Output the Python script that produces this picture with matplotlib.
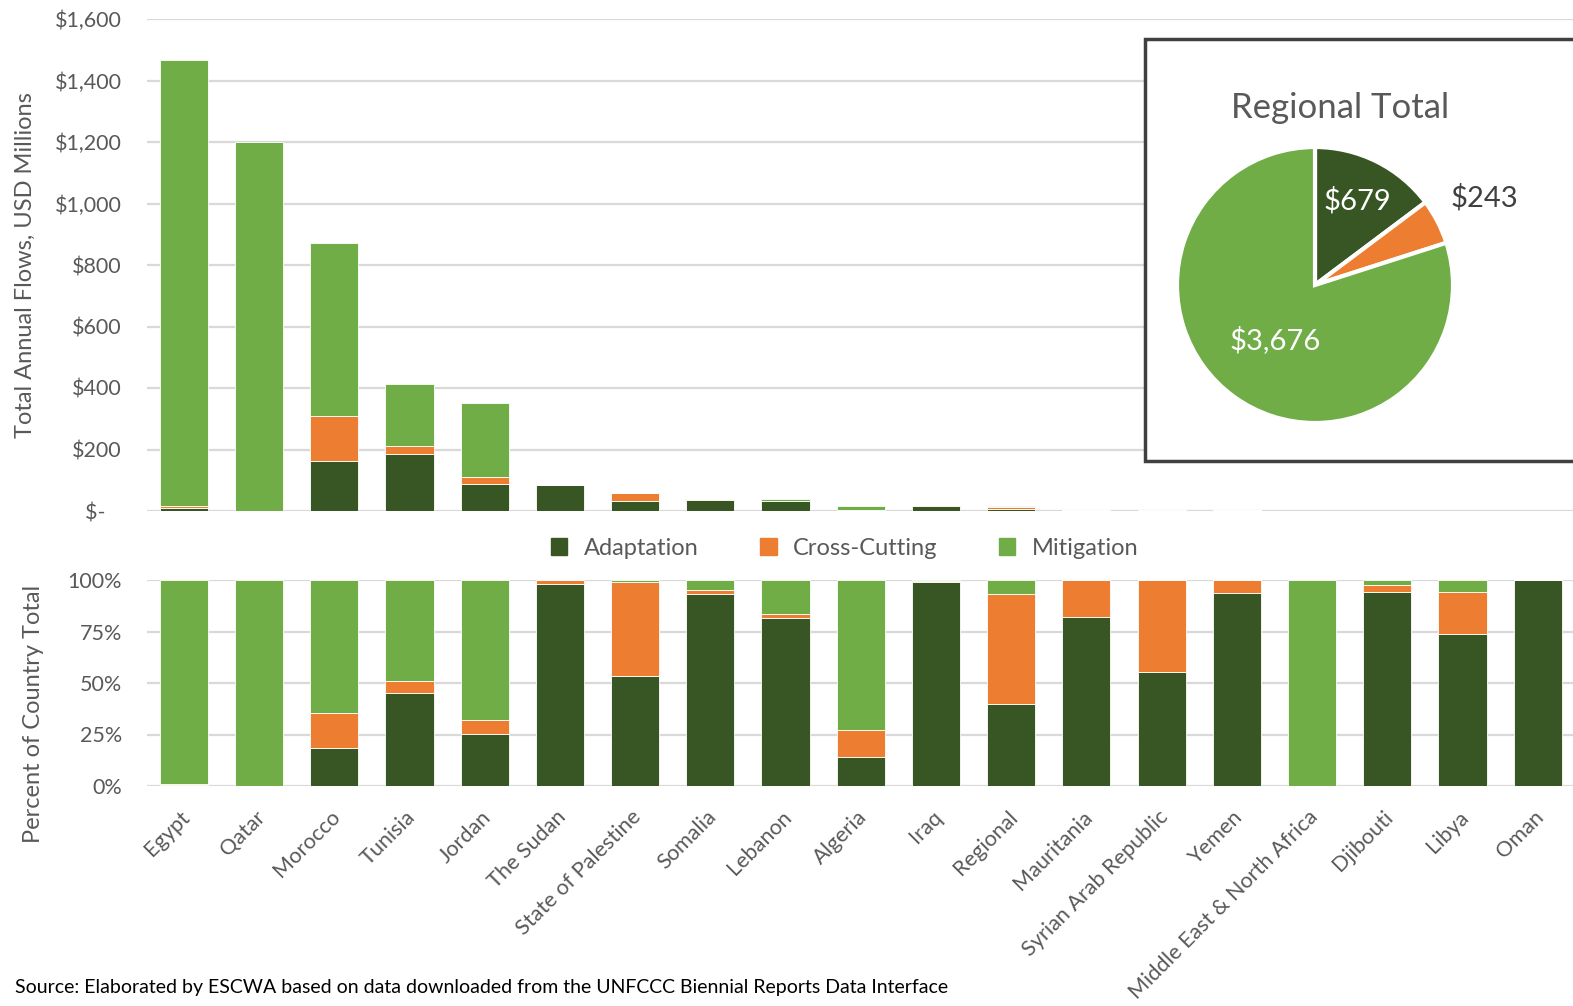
import numpy as np
import matplotlib
matplotlib.use("Agg")
import matplotlib.pyplot as plt
import matplotlib.transforms as mtransforms
from matplotlib.patches import Rectangle, Patch

plt.rcParams['font.family'] = ['Lato', 'DejaVu Sans']

# climate finance flows by recipient, USD millions
countries = ["Egypt", "Qatar", "Morocco", "Tunisia", "Jordan", "The Sudan",
             "State of Palestine", "Somalia", "Lebanon", "Algeria", "Iraq",
             "Regional", "Mauritania", "Syrian Arab Republic", "Yemen",
             "Middle East & North Africa", "Djibouti", "Libya", "Oman"]
adaptation = [10, 0, 161, 186, 89, 83.5, 32, 37.2, 31.0, 2.4, 17.8, 6.0,
              3.3, 1.4, 3.8, 0, 1.25, 0.9, 0.7]
cross_cutting = [5, 0, 149, 25, 23, 1.5, 27.4, 0.8, 0.7, 2.2, 0.1, 8.0,
                 0.73, 1.13, 0.25, 0, 0.04, 0.25, 0]
mitigation = [1452, 1200, 560, 201, 238, 0, 0.6, 2.0, 6.3, 12.4, 0.1, 1.0,
              0, 0, 0, 1.5, 0.035, 0.068, 0]

pie_labels = ["Adaptation", "Cross-Cutting", "Mitigation"]
pie_values = [679, 243, 3676]

dark = "#375623"
orange = "#ED7D31"
green = "#70AD47"
grey = "#595959"
grid = "#d9d9d9"

A = np.array(adaptation)
C = np.array(cross_cutting)
M = np.array(mitigation)
total = A + C + M
x = np.arange(len(countries))
w = 0.64

fig = plt.figure(figsize=(15.73, 10.06), dpi=100)

# top: absolute flows
ax1 = fig.add_axes([147 / 1573, 1 - 511 / 1006, 1 - 147 / 1573, (511 - 19) / 1006])
kw = dict(width=w, edgecolor="white", linewidth=0.6, zorder=3)
ax1.bar(x, A, color=dark, **kw)
ax1.bar(x, C, bottom=A, color=orange, **kw)
ax1.bar(x, M, bottom=A + C, color=green, **kw)
ax1.set_ylim(0, 1600)
ax1.set_xlim(-0.49, 18.47)
yt = np.arange(0, 1601, 200)
ax1.set_yticks(yt)
ax1.set_yticklabels(["$-   " if v == 0 else "${:,}".format(v) for v in yt])
ax1.set_xticks([])
ax1.set_ylabel("Total Annual Flows, USD Millions", fontsize=17, color=grey)
ax1.yaxis.set_label_coords(-0.078, 0.5)

# bottom: share of each country's total
ax2 = fig.add_axes([147 / 1573, 1 - 786 / 1006, 1 - 147 / 1573, (786 - 580) / 1006])
pa, pc, pm = A / total * 100, C / total * 100, M / total * 100
ax2.bar(x, pa, color=dark, **kw)
ax2.bar(x, pc, bottom=pa, color=orange, **kw)
ax2.bar(x, pm, bottom=pa + pc, color=green, **kw)
ax2.set_ylim(0, 100)
ax2.set_xlim(-0.49, 18.47)
ax2.set_yticks([0, 25, 50, 75, 100])
ax2.set_yticklabels(["0%", "25%", "50%", "75%", "100%"])
ax2.set_xticks(x)
ax2.set_xticklabels(countries, rotation=45, ha="right", va="top", rotation_mode="anchor")
ax2.set_ylabel("Percent of Country Total", fontsize=17, color=grey)
ax2.yaxis.set_label_coords(-0.072, 0.35)

for ax in (ax1, ax2):
    for s in ax.spines.values():
        s.set_visible(False)
    ax.grid(axis="y", color=grid, linewidth=1.6, zorder=0)
    ax.set_axisbelow(True)
    ax.tick_params(axis="both", length=0, labelsize=15.5, colors=grey, pad=18)
ax2.tick_params(axis="x", pad=15, labelsize=15.6)
shift = mtransforms.ScaledTranslation(-4 / 100, 0, fig.dpi_scale_trans)
for lab in ax2.get_xticklabels():
    lab.set_transform(lab.get_transform() + shift)

handles = [Patch(color=c) for c in (dark, orange, green)]
fig.legend(handles, pie_labels, loc="center", bbox_to_anchor=(0.537, 0.455), ncol=3,
           frameon=False, fontsize=17, labelcolor=grey, handlelength=0.7, handleheight=0.7,
           columnspacing=2.6, handletextpad=0.7)

# inset box with regional pie
box = Rectangle((1145 / 1573, 1 - 461 / 1006), 0.4, (461 - 39) / 1006,
                transform=fig.transFigure, facecolor="white", edgecolor="#404040",
                linewidth=2.5, zorder=1)
fig.add_artist(box)
fig.text(1340 / 1573, 1 - 108 / 1006, "Regional Total", fontsize=25, color=grey,
         ha="center", va="center", zorder=3)

axp = fig.add_axes([(1315 - 150) / 1573, 1 - (285 + 150) / 1006, 300 / 1573, 300 / 1006])
axp.set_zorder(2)
wedges, _ = axp.pie(pie_values, colors=[dark, orange, green], startangle=90,
                    counterclock=False, radius=1,
                    wedgeprops=dict(edgecolor="white", linewidth=3))
axp.set_xlim(-150 / 138, 150 / 138)
axp.set_ylim(-150 / 138, 150 / 138)
axp.set_aspect("equal")
axp.axis("off")
label_r = [0.68, 1.38, 0.49]
label_c = ["white", "#404040", "white"]
for wdg, v, r, c in zip(wedges, pie_values, label_r, label_c):
    ang = np.deg2rad((wdg.theta1 + wdg.theta2) / 2)
    axp.text(r * np.cos(ang), r * np.sin(ang), "${:,}".format(v), fontsize=21,
             color=c, ha="center", va="center")

fig.text(15 / 1573, 1 - 987 / 1006,
         "Source: Elaborated by ESCWA based on data downloaded from the UNFCCC Biennial Reports Data Interface",
         fontsize=14, color="black", ha="left", va="center")

fig.savefig("out.png", dpi=100)
